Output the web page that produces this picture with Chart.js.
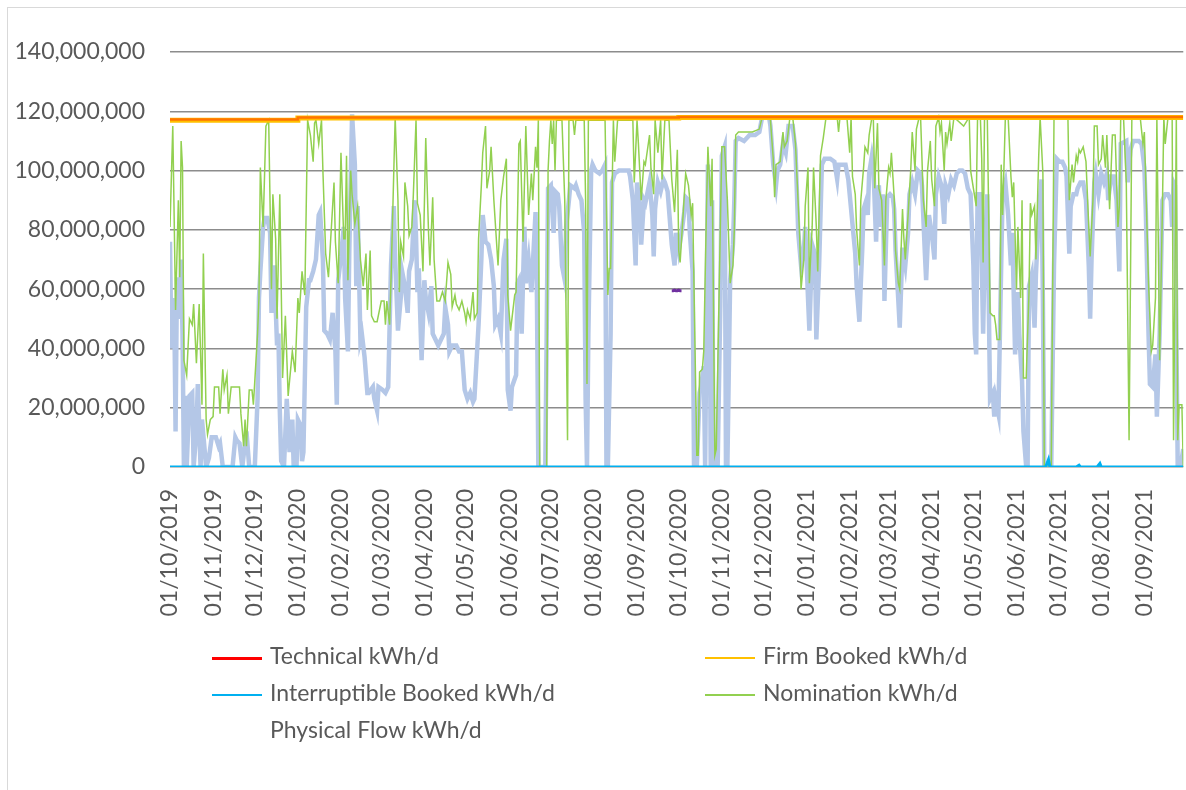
<!DOCTYPE html>
<html lang="en">
<head>
  <meta charset="UTF-8">
  <title>Capacity, bookings, nominations and flows</title>
  <style>
    body {
      margin: 0;
      background: #fff;
      font-family: 'Lato', 'Open Sans', Arial, sans-serif;
      color: #595959;
    }

    #wrap {
      position: relative;
      width: 1186px;
      height: 790px;
      overflow: hidden;
    }

    #frame {
      position: absolute;
      left: 7px;
      top: 7px;
      width: 1200px;
      height: 800px;
      border: 1px solid #d9d9d9;
    }

    #chart {
      position: absolute;
      left: 0;
      top: 0;
    }

    .legend-item {
      position: absolute;
      height: 30px;
      line-height: 30px;
      font-size: 23px;
      white-space: nowrap;
    }

    .legend-item span.mark {
      display: inline-block;
      width: 50px;
      vertical-align: middle;
      margin-right: 8px;
    }
  </style>
</head>
<body>
  <div id="wrap">
    <div id="frame"></div>
    <canvas id="chart" width="1186" height="790"></canvas>
    <div id="legend"></div>
  </div>

  <script src="https://cdn.jsdelivr.net/npm/chart.js"></script>
  <script>
    // days counted from 01/10/2019, values in millions of kWh/d
    const START = Date.UTC(2019, 9, 1);
    const LAST_DAY = 729;

    const yTicks = [0, 20, 40, 60, 80, 100, 120, 140];

    const technicalPoints = [[0, 117.2], [92, 117.9], [366, 118.1], [729, 118.1]];
    const firmPoints = [[0, 117.0], [92, 117.7], [366, 117.9], [729, 117.9]];

    const interruptiblePoints = [[0, 0], [630, 0], [632, 2.5], [633, 0], [652, 0], [654, 0.6], [655, 0],
      [667, 0], [669, 1.2], [670, 0], [729, 0]];

    const nominationPoints = [[0,81],[2,115],[4,53],[6,90],[7,64],[8,110],[9,101],[10,36],[12,31],[14,50],[16,48],[17,55],[19,35],[21,55],[23,21],[24,72],[26,16],[27,11],[29,16],[31,17],[32,27],[35,27],[36,18],[38,33],[39,26],[41,31],[42,18],[44,27],[50,27],[51,18],[53,7],[54,16],[55,7],[57,26],[59,26],[60,21],[63,45],[64,57],[65,101],[67,81],[69,115],[71,117],[73,60],[74,92],[76,77],[77,50],[79,92],[81,30],[83,51],[85,24],[88,39],[90,32],[92,57],[93,52],[95,66],[97,58],[99,117],[101,112],[103,103],[104,116],[105,117],[107,109],[109,117],[110,100],[112,72],[114,64],[118,96],[119,76],[121,62],[123,106],[125,77],[126,77],[127,105],[128,63],[130,100],[131,92],[133,82],[135,88],[137,70],[139,61],[141,72],[142,53],[144,73],[145,51],[147,49],[149,49],[152,56],[154,56],[155,48],[156,56],[158,48],[159,63],[162,118],[164,90],[165,59],[166,76],[168,71],[169,96],[171,88],[172,78],[174,81],[175,91],[177,117],[178,89],[180,85],[182,66],[184,111],[186,79],[187,68],[189,91],[190,70],[192,56],[194,56],[196,59],[198,56],[200,69],[202,65],[203,54],[205,58],[206,55],[208,53],[210,56],[212,52],[213,49],[214,53],[216,50],[218,59],[219,50],[221,52],[222,77],[224,95],[225,106],[227,115],[228,94],[230,100],[231,108],[233,90],[236,68],[238,90],[240,98],[242,104],[243,58],[245,46],[248,58],[249,59],[251,109],[252,110],[254,76],[256,115],[258,85],[260,99],[261,90],[263,108],[264,101],[265,117],[266,0],[271,0],[272,100],[273,110],[274,117],[275,109],[276,117],[277,100],[278,117],[282,117],[284,90],[286,9],[287,117],[290,117],[291,112],[292,117],[298,117],[299,90],[300,28],[301,117],[313,117],[315,58],[316,67],[317,67],[319,117],[320,103],[322,117],[333,117],[334,96],[336,117],[337,109],[339,90],[341,103],[342,102],[345,112],[346,101],[348,92],[349,117],[351,106],[353,117],[354,97],[356,117],[359,117],[361,97],[363,86],[365,107],[366,73],[367,69],[369,84],[371,99],[373,95],[375,85],[376,89],[379,4],[380,4],[381,32],[383,33],[384,39],[386,88],[387,108],[389,88],[390,104],[392,4],[393,6],[395,57],[397,108],[399,108],[401,90],[403,62],[405,68],[406,80],[407,112],[409,113],[415,113],[419,113],[424,114],[426,118],[431,118],[432,117],[434,104],[435,91],[436,102],[439,103],[441,113],[442,108],[444,110],[446,118],[448,118],[450,109],[453,78],[454,60],[456,70],[457,88],[459,101],[460,62],[462,81],[463,101],[465,81],[466,66],[468,105],[470,111],[472,118],[480,118],[481,113],[482,118],[487,118],[489,106],[490,118],[491,98],[493,92],[494,80],[496,68],[497,90],[499,101],[500,108],[502,106],[503,112],[505,118],[506,118],[507,94],[509,116],[510,94],[512,90],[514,68],[515,90],[517,101],[518,99],[519,106],[521,91],[522,73],[524,62],[525,60],[527,87],[528,77],[529,70],[531,85],[533,101],[534,113],[536,100],[537,114],[539,118],[540,118],[542,90],[544,81],[545,100],[547,110],[548,97],[550,88],[551,115],[553,118],[554,113],[555,116],[557,100],[558,113],[559,109],[561,116],[562,110],[564,118],[571,115],[575,118],[576,100],[578,94],[580,88],[581,118],[583,118],[584,104],[585,69],[586,118],[588,118],[590,52],[592,51],[593,51],[594,48],[595,43],[597,43],[598,102],[599,85],[601,118],[603,118],[605,98],[606,91],[607,96],[609,60],[610,81],[612,57],[613,90],[614,30],[616,30],[618,59],[619,89],[620,85],[622,88],[623,70],[625,105],[626,118],[628,99],[629,0],[634,0],[636,118],[646,118],[647,90],[649,102],[650,96],[652,105],[653,103],[654,107],[655,106],[657,108],[659,103],[661,81],[662,71],[664,90],[665,115],[667,115],[668,102],[670,104],[671,112],[673,101],[674,112],[676,87],[678,112],[680,112],[682,81],[683,88],[684,118],[686,118],[688,96],[690,9],[691,63],[692,118],[698,118],[700,109],[701,113],[702,96],[704,62],[706,39],[707,41],[709,57],[710,118],[712,36],[714,88],[715,118],[716,109],[718,118],[721,118],[722,9],[724,118],[725,9],[726,21],[728,21],[729,0]];

    const flowPoints = [[0,76],[1,40],[3,57],[4,12],[5,64],[7,50],[8,70],[9,45],[10,0],[11,24],[12,0],[14,24],[16,25],[17,0],[19,12],[20,28],[22,0],[23,16],[26,0],[28,3],[30,10],[33,10],[35,7],[36,8],[38,0],[45,0],[47,10],[48,9],[50,8],[52,0],[55,12],[57,0],[61,0],[63,23],[64,57],[65,66],[67,81],[68,84],[70,84],[72,79],[73,52],[75,68],[77,41],[78,45],[79,19],[80,2],[82,0],[84,23],[86,5],[88,16],[89,0],[91,0],[92,16],[94,14],[95,2],[96,5],[98,54],[100,63],[101,63],[103,66],[105,70],[107,85],[108,86],[110,70],[111,46],[113,45],[115,43],[117,52],[119,39],[120,21],[121,63],[123,71],[125,81],[126,57],[128,39],[129,73],[131,119],[133,102],[134,61],[135,88],[137,43],[138,45],[140,37],[142,25],[143,25],[146,27],[147,23],[149,19],[150,27],[153,26],[155,25],[157,27],[159,68],[161,88],[162,70],[164,46],[166,57],[167,66],[169,61],[171,52],[172,66],[174,70],[176,90],[177,78],[178,59],[179,67],[181,36],[183,63],[184,57],[186,52],[188,61],[189,45],[191,43],[193,41],[195,43],[197,45],[198,54],[200,48],[201,39],[203,41],[206,41],[208,39],[210,39],[212,26],[214,23],[216,25],[218,22],[219,23],[222,48],[224,70],[225,85],[227,76],[229,75],[231,70],[233,61],[234,48],[236,50],[238,45],[240,70],[242,77],[243,26],[245,19],[246,27],[249,31],[250,62],[251,63],[253,45],[255,81],[256,62],[258,70],[260,59],[261,68],[263,86],[264,57],[265,0],[270,0],[271,45],[272,94],[274,95],[276,79],[277,93],[279,92],[280,88],[282,68],[284,63],[285,81],[287,90],[288,95],[291,94],[292,95],[294,92],[296,90],[298,79],[299,23],[300,0],[301,45],[303,100],[304,102],[306,100],[309,99],[311,100],[313,102],[314,0],[315,0],[317,45],[318,96],[320,99],[323,100],[327,100],[330,100],[331,98],[333,90],[334,79],[335,68],[336,96],[338,88],[339,75],[341,90],[342,89],[345,96],[347,85],[348,71],[349,87],[351,96],[353,93],[355,97],[356,96],[358,93],[360,81],[361,75],[363,68],[364,79],[366,73],[368,79],[370,86],[371,91],[373,90],[374,79],[376,66],[377,0],[379,0],[381,25],[382,27],[384,34],[385,0],[387,102],[388,90],[389,0],[390,90],[391,0],[394,0],[396,57],[397,105],[399,108],[400,0],[401,0],[403,63],[405,75],[406,90],[407,110],[409,111],[413,110],[417,112],[421,112],[424,113],[426,118],[431,118],[432,115],[434,102],[436,95],[437,100],[439,102],[441,109],[443,106],[445,115],[448,115],[450,107],[452,79],[454,68],[456,73],[457,81],[459,57],[460,46],[462,75],[464,72],[465,43],[467,68],[469,102],[471,104],[473,104],[475,104],[478,103],[480,97],[481,102],[484,102],[486,102],[488,97],[490,87],[492,77],[493,72],[494,61],[496,49],[497,62],[498,73],[499,87],[501,90],[502,85],[503,99],[505,105],[506,102],[508,76],[509,92],[510,95],[511,81],[513,92],[514,56],[516,91],[518,92],[520,91],[521,87],[522,73],[524,56],[525,47],[527,74],[529,68],[531,79],[532,92],[534,96],[536,92],[538,100],[540,99],[541,95],[543,73],[544,63],[546,85],[548,79],[550,70],[551,92],[553,98],[555,95],[557,82],[558,95],[560,92],[562,97],[564,95],[566,99],[568,100],[570,100],[572,99],[574,94],[576,92],[578,68],[579,45],[580,38],[581,92],[583,92],[585,45],[586,70],[588,92],[590,23],[592,25],[593,17],[594,23],[596,18],[598,68],[599,92],[601,96],[603,85],[605,68],[606,79],[608,38],[610,59],[611,45],[613,29],[614,12],[616,0],[617,0],[618,61],[620,65],[622,47],[623,65],[625,85],[627,97],[628,56],[629,0],[634,0],[635,34],[636,68],[638,104],[640,103],[642,103],[644,101],[645,98],[647,72],[648,88],[650,92],[652,92],[653,94],[655,96],[657,96],[659,90],[661,68],[662,50],[663,70],[665,96],[666,99],[668,92],[670,99],[672,96],[674,99],[675,90],[677,98],[679,98],[681,90],[683,66],[684,109],[688,110],[689,96],[691,107],[693,110],[697,110],[699,109],[701,101],[702,87],[704,45],[705,28],[707,27],[709,38],[710,17],[712,45],[714,90],[716,92],[718,92],[720,90],[721,81],[722,96],[723,95],[725,0],[727,0],[729,6]];

    // a few stray points of an unlabelled series near the end of September 2020
    const extraPoints = [[361, 59.5], [362, 59.5], [363, 59.7], [364, 59.5], [365, 59.5], [366, 59.7], [367, 59.5], [368, 59.5]];

    const seriesNames = ['Technical kWh/d', 'Firm Booked kWh/d', 'Interruptible Booked kWh/d',
      'Nomination kWh/d', 'Physical Flow kWh/d'];

    const toXY = pts => pts.map(p => ({ x: p[0], y: p[1] }));

    function dayLabel(day) {
      const d = new Date(START + day * 86400000);
      const dd = String(d.getUTCDate()).padStart(2, '0');
      const mm = String(d.getUTCMonth() + 1).padStart(2, '0');
      return dd + '/' + mm + '/' + d.getUTCFullYear();
    }

    // first day of each month as tick positions
    const monthTicks = [];
    for (let i = 0; i < 24; i++) {
      const t = Date.UTC(2019, 9 + i, 1);
      monthTicks.push(Math.round((t - START) / 86400000));
    }

    const grey = '#595959';
    const tickFont = { family: 'Lato', size: 23 };

    const chart = new Chart(document.getElementById('chart'), {
      type: 'line',
      data: {
        datasets: [
          {
            label: seriesNames[0],
            data: toXY(technicalPoints),
            borderColor: 'rgba(255, 0, 0, 0.4)',
            legendColor: '#FF0000',
            legendWidth: 3,
            borderWidth: 2.5,
            stepped: 'before',
            order: 1
          },
          {
            label: seriesNames[1],
            data: toXY(firmPoints),
            borderColor: '#FFC000',
            legendColor: '#FFC000',
            legendWidth: 2,
            borderWidth: 5,
            stepped: 'before',
            order: 2
          },
          {
            label: seriesNames[2],
            data: toXY(interruptiblePoints),
            borderColor: '#00B0F0',
            legendColor: '#00B0F0',
            legendWidth: 2,
            borderWidth: 3,
            order: 3
          },
          {
            label: seriesNames[3],
            data: toXY(nominationPoints),
            borderColor: '#92D050',
            legendColor: '#92D050',
            legendWidth: 2,
            borderWidth: 1.5,
            order: 4
          },
          {
            label: seriesNames[4],
            data: toXY(flowPoints),
            borderColor: '#B4C7E7',
            legendColor: 'transparent',
            legendWidth: 2,
            borderWidth: 4.5,
            order: 5
          },
          {
            label: '',
            data: toXY(extraPoints),
            borderColor: '#7030A0',
            borderWidth: 3,
            order: 0,
            hideInLegend: true
          }
        ]
      },
      options: {
        responsive: false,
        animation: false,
        devicePixelRatio: 1,
        elements: {
          point: { radius: 0, hoverRadius: 0 },
          line: { tension: 0 }
        },
        layout: {
          padding: { left: 12, top: 52, right: 1, bottom: 173 }
        },
        plugins: {
          legend: { display: false },
          tooltip: { enabled: false }
        },
        scales: {
          x: {
            type: 'linear',
            min: 0,
            max: LAST_DAY,
            grid: { display: false },
            border: { display: false },
            afterBuildTicks: scale => {
              scale.ticks = monthTicks.map(v => ({ value: v }));
            },
            afterFit: scale => { scale.height = 150; },
            ticks: {
              autoSkip: false,
              minRotation: 90,
              maxRotation: 90,
              padding: 14,
              color: grey,
              font: tickFont,
              callback: value => dayLabel(value)
            }
          },
          y: {
            min: 0,
            max: 140,
            afterBuildTicks: scale => {
              scale.ticks = yTicks.map(v => ({ value: v }));
            },
            afterFit: scale => { scale.width = 158; },
            grid: {
              color: '#8c8c8c',
              lineWidth: 1.5,
              drawTicks: false
            },
            border: { display: false },
            ticks: {
              padding: 25,
              color: grey,
              font: tickFont,
              callback: value => (value * 1000000).toLocaleString('en-US')
            }
          }
        }
      }
    });

    // legend laid out in two columns like the original
    const legendSlots = [
      { left: 212, top: 640 }, { left: 705, top: 640 },
      { left: 212, top: 677 }, { left: 705, top: 677 },
      { left: 212, top: 714 }
    ];
    const legend = document.getElementById('legend');
    chart.data.datasets.filter(ds => !ds.hideInLegend).forEach((ds, i) => {
      const item = document.createElement('div');
      item.className = 'legend-item';
      item.style.left = legendSlots[i].left + 'px';
      item.style.top = legendSlots[i].top + 'px';
      const mark = document.createElement('span');
      mark.className = 'mark';
      mark.style.borderTop = ds.legendWidth + 'px solid ' + ds.legendColor;
      item.appendChild(mark);
      item.appendChild(document.createTextNode(ds.label));
      legend.appendChild(item);
    });
  </script>
</body>
</html>
